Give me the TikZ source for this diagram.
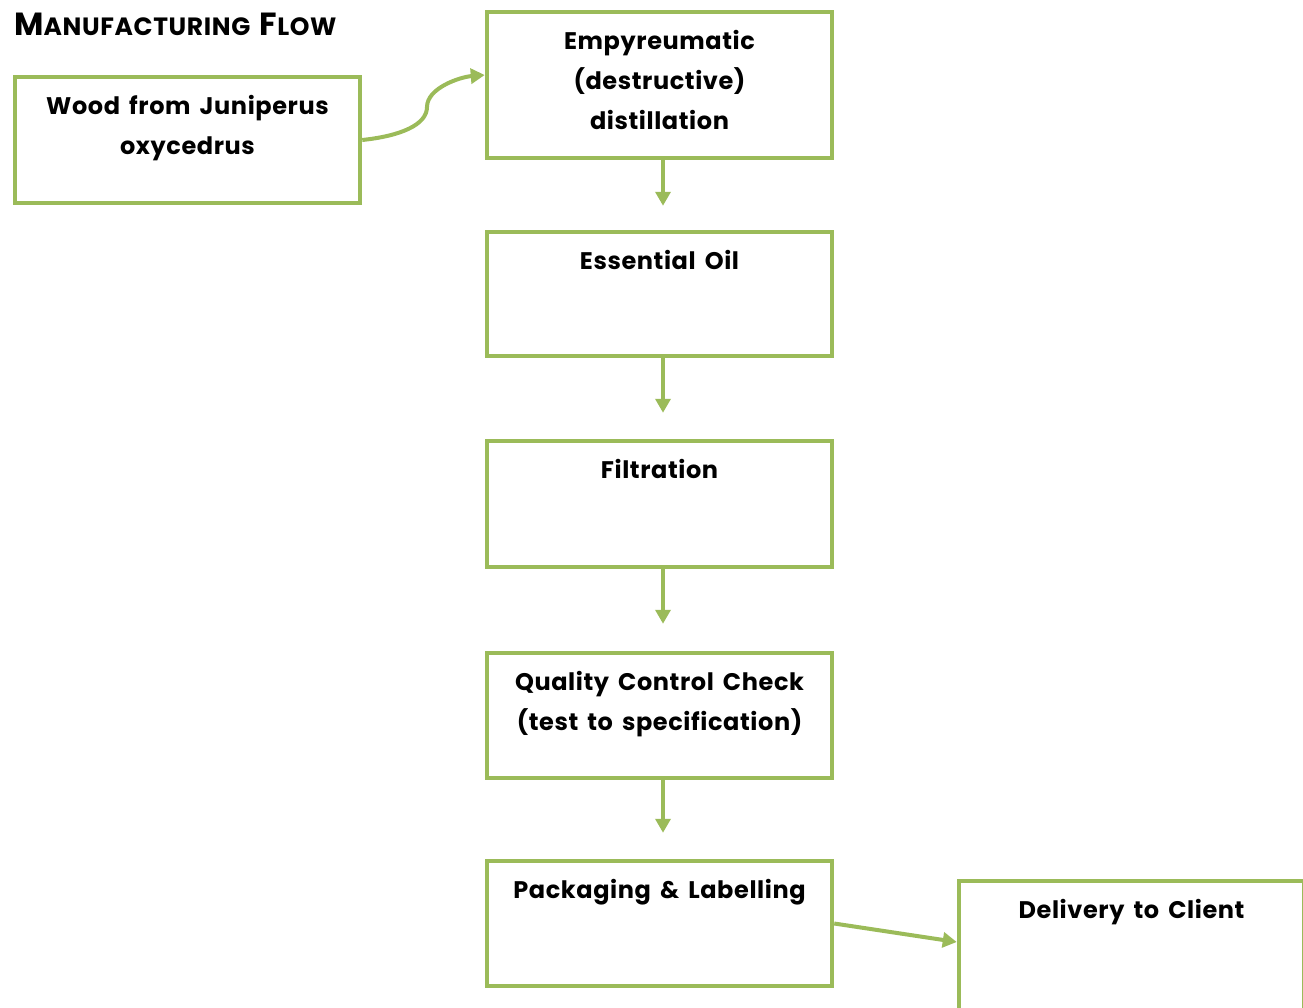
\documentclass[tikz,border=0pt]{standalone}
\usepackage{fontspec}
\setmainfont{Poppins}[LetterSpace=2.5,WordSpace=1.6]
\usetikzlibrary{arrows.meta}
\definecolor{lgreen}{HTML}{9BBB59}
\tikzset{
  box/.style={draw=lgreen, line width=4.5pt, minimum width=345pt, inner sep=0pt, rectangle},
  lbl/.style={anchor=north, inner sep=0pt, align=center, font=\fontsize{24}{40}\selectfont\bfseries},
  conn/.style={draw=lgreen, line width=4pt, -{Triangle[width=15pt,length=14pt]}},
}
\begin{document}
\begin{tikzpicture}[x=1pt,y=-1pt]
\useasboundingbox (0,0) rectangle (1303,1007);
\clip (0,0) rectangle (1303,1007);
\node[anchor=west, inner sep=0pt, font=\bfseries] (title) at (14,24) {\fontsize{32}{32}\selectfont M\fontsize{25}{25}\selectfont ANUFACTURING \fontsize{32}{32}\selectfont F\fontsize{25}{25}\selectfont LOW};
\node[box, minimum height=126pt] (wood) at (187.5,140) {};
\node[box, minimum height=146pt] (emp) at (659.5,85) {};
\node[box, minimum height=124pt] (oil) at (659.5,294) {};
\node[box, minimum height=126pt] (filt) at (659.5,504) {};
\node[box, minimum height=125pt] (qc) at (659.5,715.5) {};
\node[box, minimum height=125pt] (pack) at (659.5,923.5) {};
\node[box, minimum height=130pt] (deliv) at (1131.5,946) {};
\node[lbl] (woodt) at ([yshift=-20pt]wood.north) {Wood from Juniperus\\oxycedrus};
\node[lbl] (empt) at ([yshift=-20pt]emp.north) {Empyreumatic\\(destructive)\\distillation};
\node[lbl] (oilt) at ([yshift=-20pt]oil.north) {Essential Oil};
\node[lbl] (filtt) at ([yshift=-20pt]filt.north) {Filtration};
\node[lbl] (qct) at ([yshift=-20pt]qc.north) {Quality Control Check\\(test to specification)};
\node[lbl] (packt) at ([yshift=-20pt]pack.north) {Packaging \& Labelling};
\node[lbl] (delivt) at ([yshift=-20pt]deliv.north) {Delivery to Client};
\draw[conn] (wood.east) .. controls (400,136) and (427,125) .. (427,107) .. controls (427,88) and (460,77) .. ([yshift=10pt]emp.west);
\draw[conn, shorten >=24pt] ([xshift=3.5pt]emp.south) -- ([xshift=3.5pt]oil.north);
\draw[conn, shorten >=26pt] ([xshift=3.5pt]oil.south) -- ([xshift=3.5pt]filt.north);
\draw[conn, shorten >=27pt] ([xshift=3.5pt]filt.south) -- ([xshift=3.5pt]qc.north);
\draw[conn, shorten >=26pt] ([xshift=3.5pt]qc.south) -- ([xshift=3.5pt]pack.north);
\draw[conn] (pack.east) -- ([yshift=4pt]deliv.west);
\end{tikzpicture}
\end{document}
